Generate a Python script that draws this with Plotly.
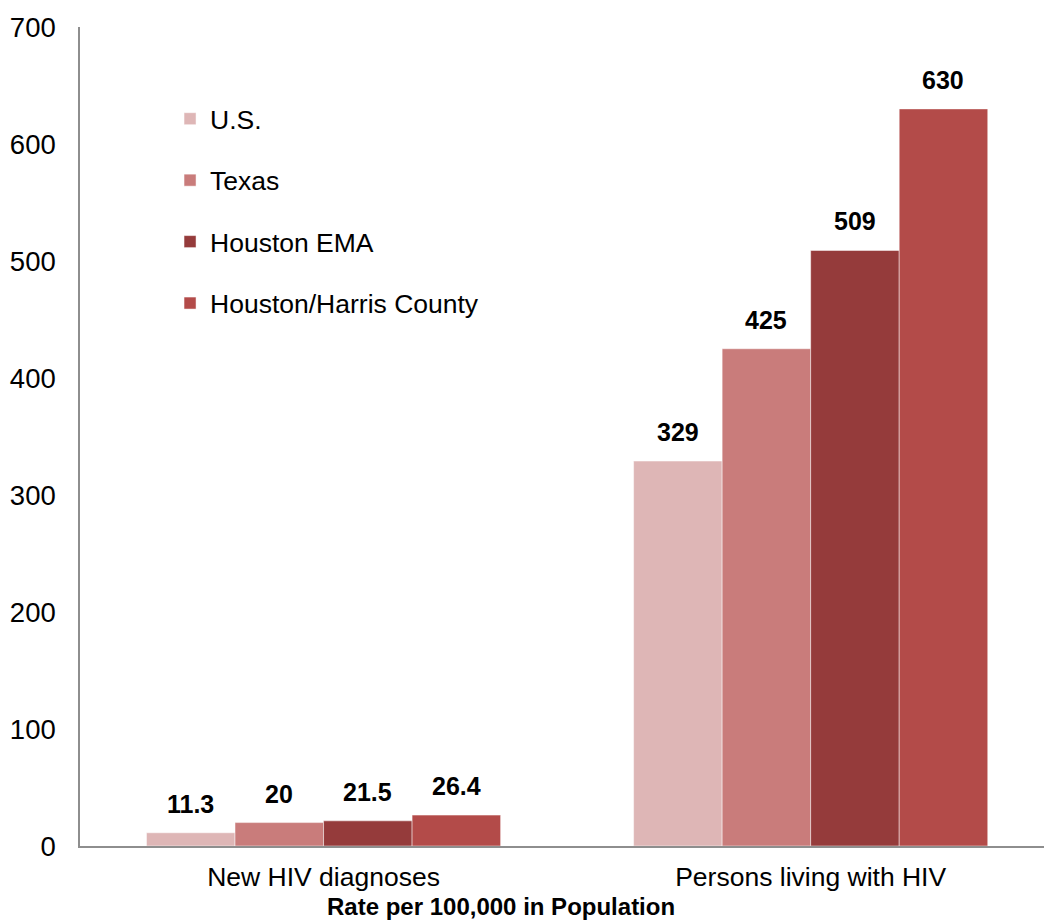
import plotly.graph_objects as go

categories = ["New HIV diagnoses", "Persons living with HIV"]
series_names = ["U.S.", "Texas", "Houston EMA", "Houston/Harris County"]
us_values = [11.3, 329]
texas_values = [20, 425]
ema_values = [21.5, 509]
harris_values = [26.4, 630]
y_ticks = [0, 100, 200, 300, 400, 500, 600, 700]

series_values = [us_values, texas_values, ema_values, harris_values]
colors = ["#DEB6B6", "#C97C7B", "#953B3B", "#B34B49"]

FONT = "Liberation Sans, Arial, sans-serif"
W, H = 1044, 921
ML, MR, MT, MB = 80, 0, 27, 75
BARGAP = 0.273
X_RANGE = [-0.5, 1.479]

fig = go.Figure()
for i, (name, vals, col) in enumerate(zip(series_names, series_values, colors)):
    fig.add_trace(go.Bar(
        x=categories, y=vals, name=name,
        marker=dict(color=col, line=dict(color="rgba(255,255,255,0.6)", width=0.8)),
        legendgroup=f"g{i}",
    ))

# data labels placed above bars
plot_w = W - ML - MR
band_px = plot_w / (X_RANGE[1] - X_RANGE[0])
bar_px = band_px * (1 - BARGAP) / len(series_names)
for i, vals in enumerate(series_values):
    for j, v in enumerate(vals):
        fig.add_annotation(
            x=categories[j], y=v, xref="x", yref="y",
            text=f"<b>{v:g}</b>", showarrow=False,
            xshift=(i - (len(series_names) - 1) / 2) * bar_px,
            yanchor="bottom", yshift=13,
            font=dict(family=FONT, size=25, color="#000000"),
        )

fig.add_annotation(
    x=(501 - ML) / plot_w, y=(H - MB - 906) / (H - MT - MB),
    xref="paper", yref="paper", showarrow=False,
    text="<b>Rate per 100,000 in Population</b>",
    xanchor="center", yanchor="middle",
    font=dict(family=FONT, size=24, color="#000000"),
)

fig.update_layout(
    width=W, height=H,
    margin=dict(l=ML, r=MR, t=MT, b=MB, pad=0),
    paper_bgcolor="white", plot_bgcolor="white",
    barmode="group", bargap=BARGAP, bargroupgap=0,
    font=dict(family=FONT, size=26, color="#000000"),
    showlegend=True,
    legend=dict(
        x=0.0934, y=0.917, xanchor="left", yanchor="top",
        bgcolor="rgba(0,0,0,0)", font=dict(family=FONT, size=26.5, color="#000000"),
        traceorder="grouped", tracegroupgap=24,
    ),
    xaxis=dict(
        range=X_RANGE, showgrid=False, zeroline=False,
        showline=True, linecolor="#8E8E8E", linewidth=1.5,
        ticks="", ticklabelstandoff=6,
        tickfont=dict(family=FONT, size=26.5, color="#000000"),
    ),
    yaxis=dict(
        range=[0, 700], tickvals=y_ticks, showgrid=False, zeroline=False,
        showline=True, linecolor="#8E8E8E", linewidth=1.5,
        ticks="", ticklabelstandoff=17,
        tickfont=dict(family=FONT, size=27.5, color="#000000"),
    ),
)

fig.write_html(
    "out.html",
    config={"displayModeBar": False},
    post_script="document.body.style.margin='0';document.body.style.padding='0';",
)
